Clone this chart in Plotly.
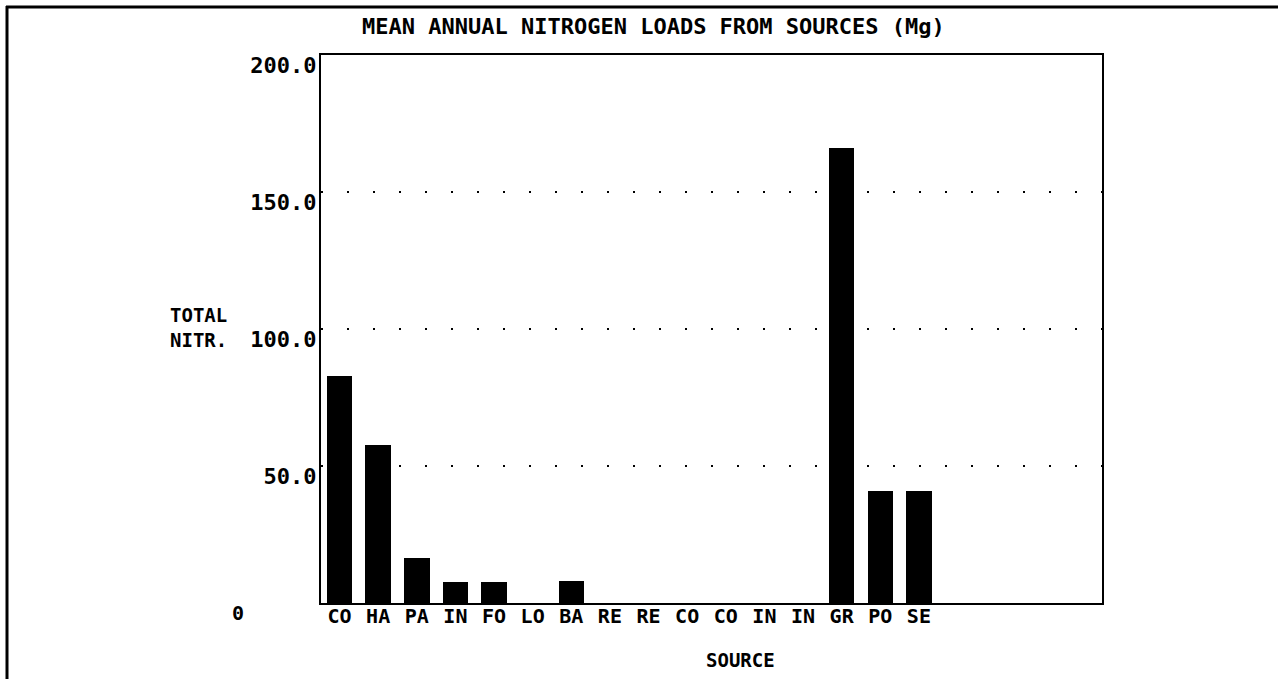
import plotly.graph_objects as go

categories = ["CO", "HA", "PA", "IN", "FO", "LO", "BA", "RE", "RE",
              "CO", "CO", "IN", "IN", "GR", "PO", "SE"]
values = [82.8, 57.6, 16.3, 7.8, 7.7, 0.0, 8.0, 0.0, 0.0,
          0.0, 0.0, 0.0, 0.0, 166.2, 41.0, 41.0]
y_tickvals = [50, 100, 150, 200]
y_ticktext = ["50.0", "100.0", "150.0", "200.0"]

W, H = 1278, 679
L, R, T, B = 321, 1102, 55, 603
pw, ph = R - L, B - T

def px(x):
    return (x - L) / pw

def py(y):
    return (B - y) / ph

FONT = "DejaVu Sans Mono"
xs = list(range(len(categories)))

fig = go.Figure()
fig.add_trace(go.Bar(
    x=xs, y=values, width=0.66,
    marker=dict(color="black", line=dict(width=0)),
    showlegend=False,
))

fig.update_layout(
    width=W, height=H,
    margin=dict(l=L, r=W - R, t=T, b=H - B, pad=0),
    plot_bgcolor="white", paper_bgcolor="white",
    font=dict(family=FONT, color="black", size=20, weight="bold"),
    bargap=0,
)
fig.update_xaxes(
    range=[-0.48, 19.74],
    tickvals=xs, ticktext=categories,
    showgrid=False, zeroline=False,
    showline=True, linecolor="black", linewidth=2, mirror=True,
    ticks="", ticklabelstandoff=-6,
    tickfont=dict(family=FONT, size=20, weight="bold"),
)
fig.update_yaxes(
    range=[0, 200],
    tickvals=y_tickvals, ticktext=y_ticktext,
    showgrid=True, gridcolor="black", gridwidth=2, griddash="2px,24px",
    zeroline=False,
    showline=True, linecolor="black", linewidth=2, mirror=True,
    ticks="", ticklabelshift=10, ticklabelstandoff=-2,
    tickfont=dict(family=FONT, size=22, weight="bold"),
)

ann_font = dict(family=FONT, weight="bold", color="black")
fig.add_annotation(text="MEAN ANNUAL NITROGEN LOADS FROM SOURCES (Mg)",
                   x=px(653), y=py(27), xref="paper", yref="paper",
                   xanchor="center", yanchor="middle",
                   showarrow=False, font=dict(size=22, **ann_font))
fig.add_annotation(text="TOTAL<br>NITR.", x=px(168), y=py(327),
                   xref="paper", yref="paper", xanchor="left", yanchor="middle",
                   align="left", showarrow=False, font=dict(size=19, **ann_font))
fig.add_annotation(text="0", x=px(238), y=py(613), xref="paper", yref="paper",
                   xanchor="center", yanchor="middle",
                   showarrow=False, font=dict(size=20, **ann_font))
fig.add_annotation(text="SOURCE", x=px(740), y=py(660), xref="paper", yref="paper",
                   xanchor="center", yanchor="middle",
                   showarrow=False, font=dict(size=19, **ann_font))

# outer frame lines (top and left)
fig.add_shape(type="line", xref="paper", yref="paper",
              x0=px(6), x1=px(1290), y0=py(7), y1=py(7),
              line=dict(color="black", width=3))
fig.add_shape(type="line", xref="paper", yref="paper",
              x0=px(7), x1=px(7), y0=py(6), y1=py(690),
              line=dict(color="black", width=3))

fig.write_html("out.html", config={"displayModeBar": False},
               post_script="document.body.style.margin='0';")
